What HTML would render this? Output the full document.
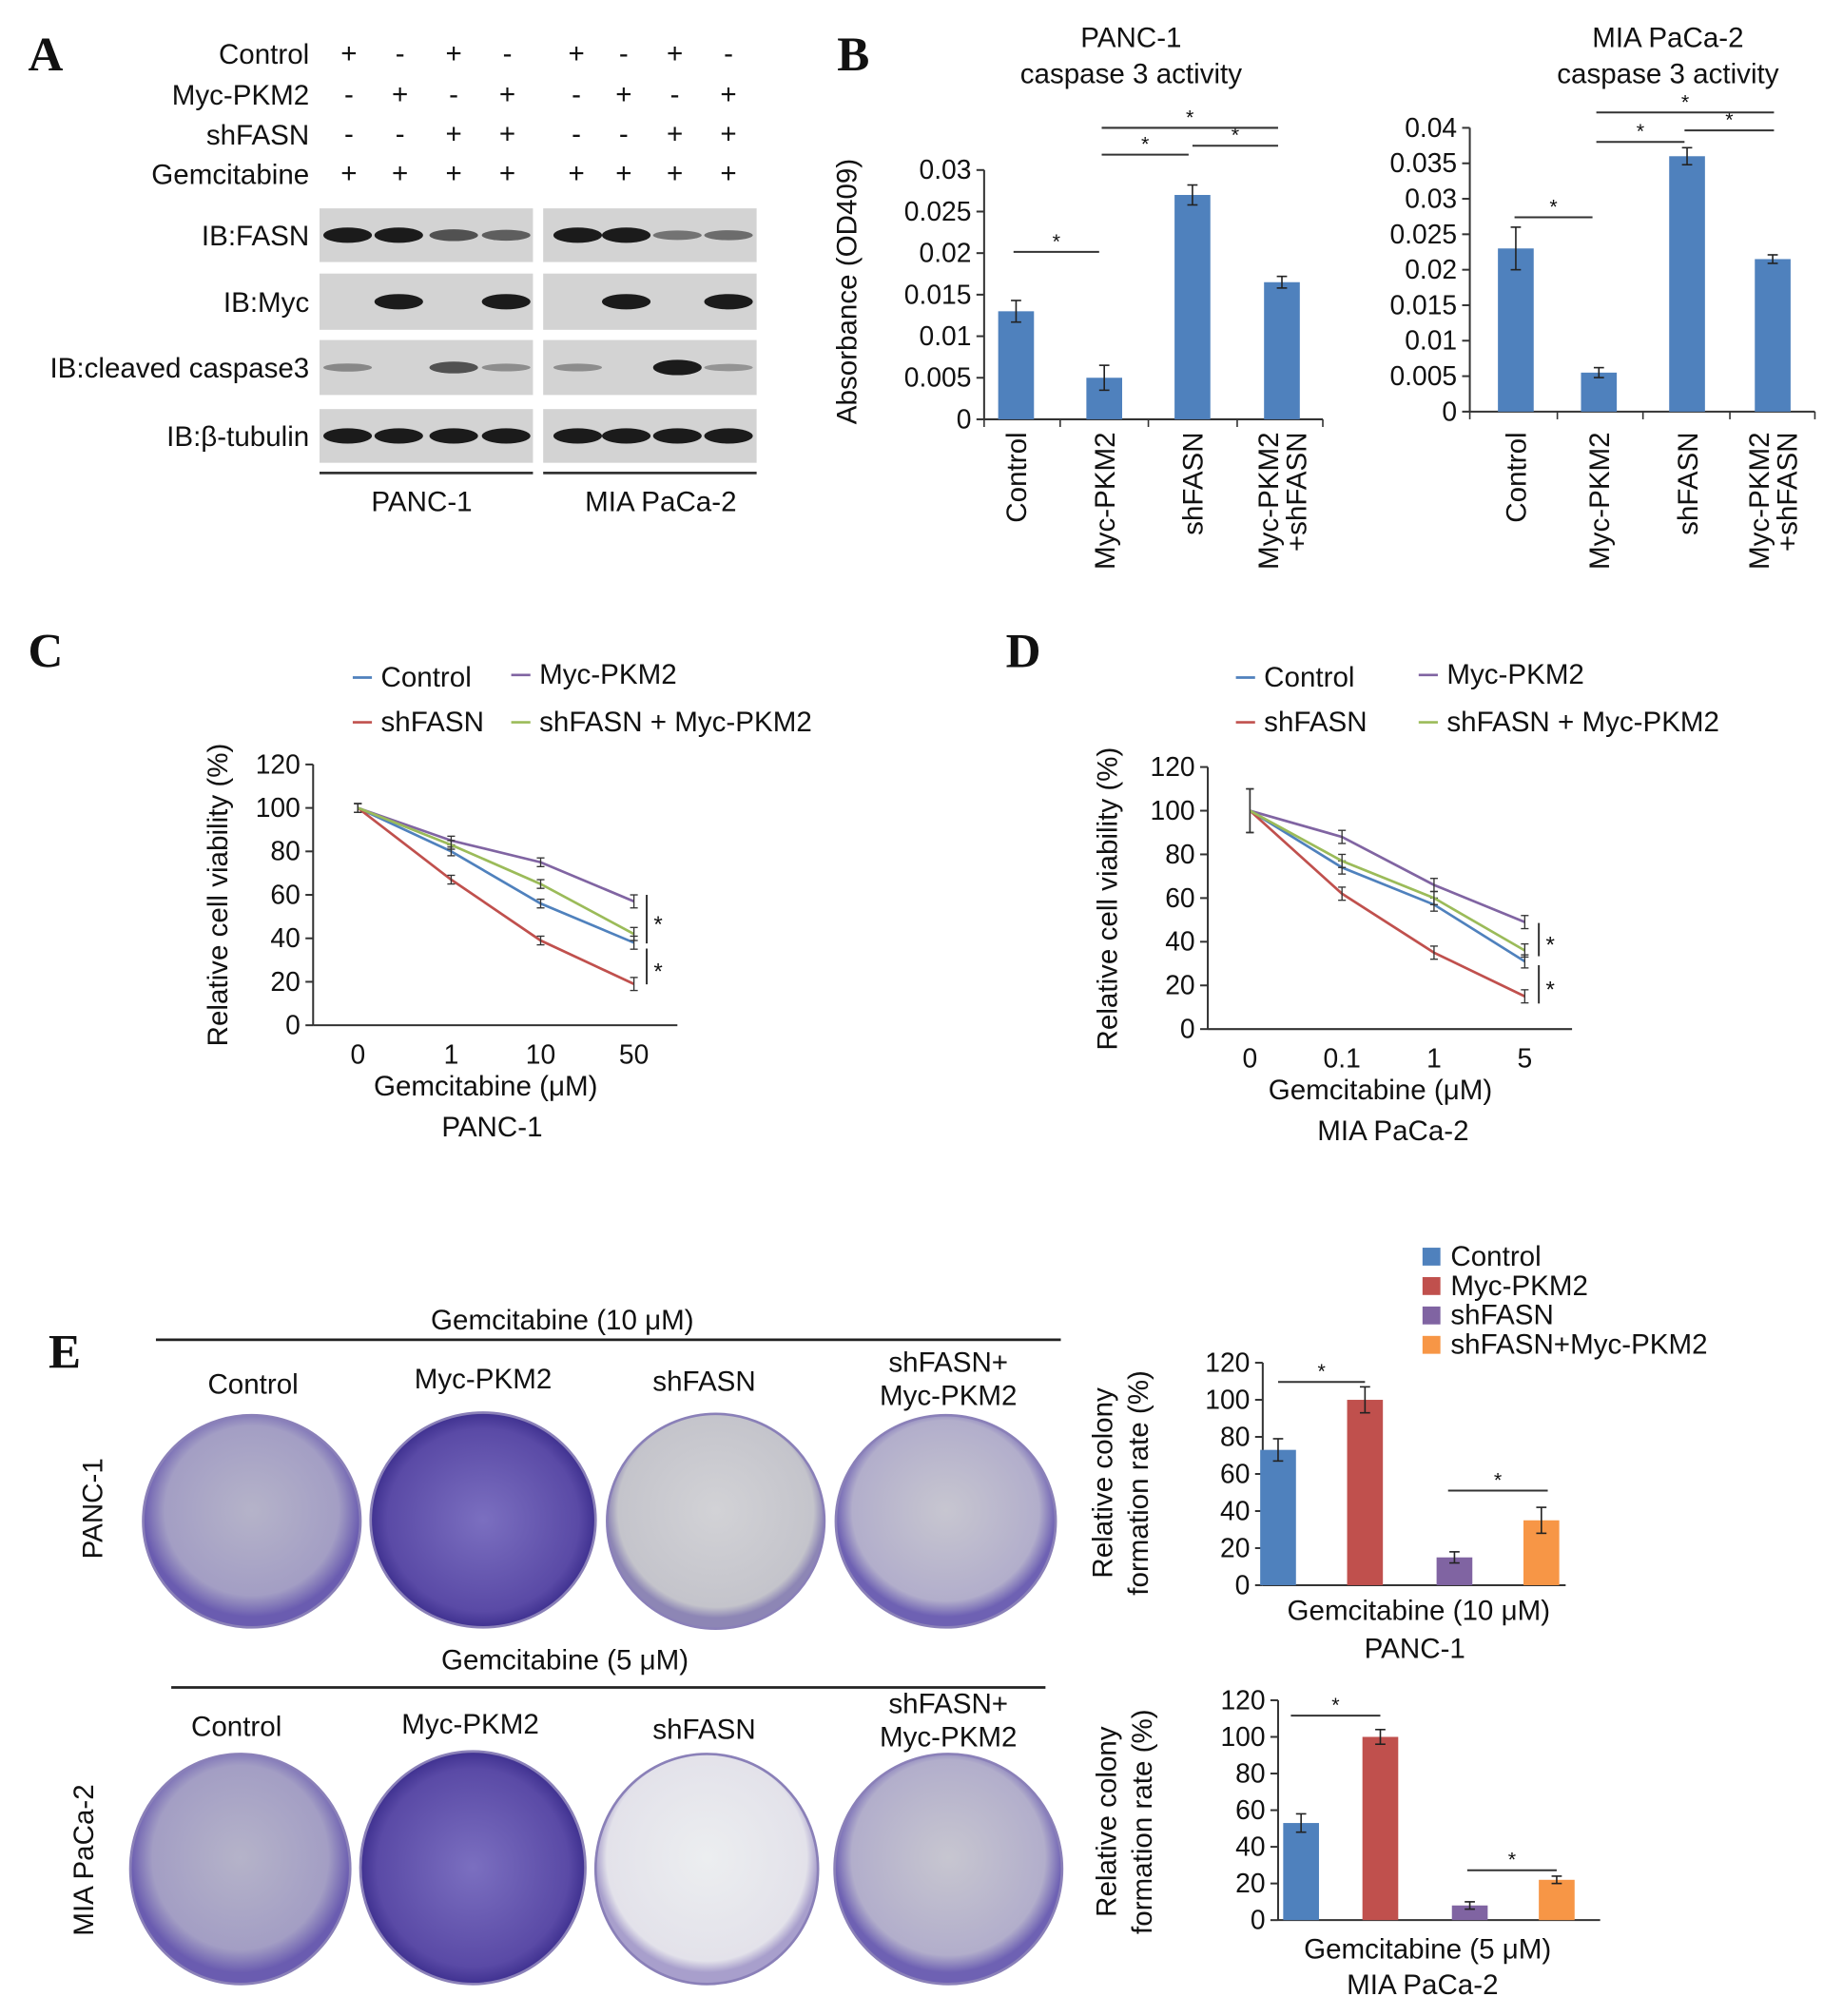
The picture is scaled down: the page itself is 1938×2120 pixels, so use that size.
<!DOCTYPE html>
<html><head><meta charset="utf-8"><style>
html,body{margin:0;padding:0;background:#fff}
svg{display:block}
text{font-family:"Liberation Sans",Arial,sans-serif;fill:#111}
</style></head><body>
<svg id="fig" width="1938" height="2120" viewBox="0 0 1442 1577" preserveAspectRatio="none" xmlns="http://www.w3.org/2000/svg">
<defs>
<radialGradient id="gDark" cx="50%" cy="50%" r="50%"><stop offset="0" stop-color="#7b6fc0"/><stop offset="0.85" stop-color="#5a4aa6"/><stop offset="1" stop-color="#3f3190"/></radialGradient>
<radialGradient id="gMid" cx="50%" cy="45%" r="50%"><stop offset="0" stop-color="#b5b3c9"/><stop offset="0.8" stop-color="#a39ec4"/><stop offset="1" stop-color="#6a5cb0"/></radialGradient>
<radialGradient id="gLight" cx="50%" cy="45%" r="50%"><stop offset="0" stop-color="#d2d2d6"/><stop offset="0.9" stop-color="#c4c4cb"/><stop offset="1" stop-color="#8d86b5"/></radialGradient>
<radialGradient id="gWhite" cx="50%" cy="45%" r="50%"><stop offset="0" stop-color="#eceef0"/><stop offset="0.9" stop-color="#e3e2ea"/><stop offset="1" stop-color="#a89fcc"/></radialGradient>
<radialGradient id="gGrayP" cx="50%" cy="45%" r="50%"><stop offset="0" stop-color="#c7c6d0"/><stop offset="0.85" stop-color="#b2aecb"/><stop offset="1" stop-color="#6e61b3"/></radialGradient>
</defs>
<g id="root"></g>
</svg>
<script>
// ---- Panel B data ----
const bCats = ["Control","Myc-PKM2","shFASN","Myc-PKM2|+shFASN"];
const bPanc = [0.013,0.005,0.027,0.0165];
const bPancErr = [0.0013,0.0015,0.0012,0.0007];
const bMia = [0.023,0.0055,0.036,0.0215];
const bMiaErr = [0.003,0.0007,0.0012,0.0006];
const bPancTicks = ["0","0.005","0.01","0.015","0.02","0.025","0.03"];
const bMiaTicks = ["0","0.005","0.01","0.015","0.02","0.025","0.03","0.035","0.04"];
// ---- Panel C/D data ----
const cSeries = ["Control","Myc-PKM2","shFASN","shFASN + Myc-PKM2"];
const cXLabels = ["0","1","10","50"];
const cControl = [100,80,56,38];
const cMyc = [100,85,75,57];
const cSh = [100,67,39,19];
const cShMyc = [100,83,65,42];
const cErr = [2,2,2,3];
const dXLabels = ["0","0.1","1","5"];
const dControl = [100,74,57,31];
const dMyc = [100,88,66,49];
const dSh = [100,62,35,15];
const dShMyc = [100,77,60,36];
const dErr = [10,3,3,3];
const vTicks = ["0","20","40","60","80","100","120"];
// ---- Panel E data ----
const eCats = ["Control","Myc-PKM2","shFASN","shFASN+Myc-PKM2"];
const ePanc = [73,100,15,35];
const ePancErr = [6,7,3,7];
const eMia = [53,100,8,22];
const eMiaErr = [5,4,2,2];

const NS="http://www.w3.org/2000/svg";
const root=document.getElementById('root');
function mk(tag,attrs,parent,txt){const e=document.createElementNS(NS,tag);for(const k in attrs)e.setAttribute(k,attrs[k]);if(txt!==undefined)e.textContent=txt;(parent||root).appendChild(e);return e;}
function T(x,y,s,size,anchor,extra){const e=mk('text',Object.assign({x:x,y:y,'font-size':size||22,'text-anchor':anchor||'middle'},extra||{}),null,s);


return e;}
function L(x1,y1,x2,y2,c,w){const e=mk('line',{x1,y1,x2,y2,stroke:c||'#222','stroke-width':w||1.5});


return e;}

// Panel letters
[["A",22,55],["B",655,55],["C",22,522],["D",787,522],["E",38,1070]].forEach(p=>{const t=T(p[1],p[2],p[0],38,'start',{style:'font-family:"Liberation Serif",serif;font-weight:bold'});
});

// ---- Panel A ----
const aRows=[["Control","+-+-+-+-",42],["Myc-PKM2","-+-+-+-+",74],["shFASN","--++--++",105],["Gemcitabine","++++++++",136]];
const aCols=[273,313,355,397,451,488,528,570];
aRows.forEach(r=>{T(242,r[2]+8,r[0],22,'end');for(let i=0;i<8;i++){T(aCols[i],r[2]+7,r[1][i]==='+'?'+':'-',22,'middle');}});
const blots=[["IB:FASN",163,205],["IB:Myc",214,258],["IB:cleaved caspase3",266,309],["IB:\u03b2-tubulin",320,362]];
const bandInt={ "IB:FASN":[1,1,.6,.5,1,1,.35,.4], "IB:Myc":[0,1,0,1,0,1,0,1], "IB:cleaved caspase3":[.2,0,.6,.15,.15,0,1,.1], "IB:\u03b2-tubulin":[1,1,1,1,1,1,1,1]};
blots.forEach(b=>{
  T(242,(b[1]+b[2])/2+8,b[0],22,'end');
  const r1=mk('rect',{x:250,y:b[1],width:167,height:b[2]-b[1],fill:'#d3d3d3'});
  
  
  const r2=mk('rect',{x:425,y:b[1],width:167,height:b[2]-b[1],fill:'#d3d3d3'});
  
  
  const cy=(b[1]+b[2])/2;
  bandInt[b[0]].forEach((v,i)=>{if(v<=0)return;const cx=[272,312,355,396,452,490,530,570][i];
    const e=mk('ellipse',{cx:cx,cy:cy,rx:19,ry:2.5+3.5*v,fill:'#111','fill-opacity':0.25+0.7*v});
    
    });
});
L(250,370,417,370,'#333',2);L(425,370,592,370,'#333',2);
T(330,400,"PANC-1",22);T(517,400,"MIA PaCa-2",22);

// ---- Bar chart helper ----
function barChart(o){
  const y=v=>o.y0-(v/o.max)*(o.y0-o.yTop);
  L(o.ax,o.yTop,o.ax,o.y0,'#333',1.5);L(o.ax,o.y0,o.xEnd,o.y0,'#333',1.5);
  o.ticks.forEach((t,i)=>{const v=i*o.step;const yy=y(v);L(o.ax-6,yy,o.ax,yy,'#333',1.5);T(o.ax-10,yy+7,t,o.tf||21,'end');});
  o.vals.forEach((v,i)=>{const cx=o.xs[i];
    const r=mk('rect',{x:cx-o.bw/2,y:y(v),width:o.bw,height:o.y0-y(v),fill:o.colors?o.colors[i]:'#4f81bd'});
    
    
    const e=o.err[i];L(cx,y(v+e),cx,y(v-e),'#222',1.2);L(cx-4,y(v+e),cx+4,y(v+e),'#222',1.2);L(cx-4,y(v-e),cx+4,y(v-e),'#222',1.2);
  });
  if(o.sepTicks){for(let i=0;i<=o.vals.length;i++){const xx=i===0?o.ax:(i===o.vals.length?o.xEnd:(o.xs[i-1]+o.xs[i])/2);L(xx,o.y0,xx,o.y0+6,'#333',1.2);}}
  (o.sig||[]).forEach(s=>{L(s[0],s[2],s[1],s[2],'#333',1.5);T((s[0]+s[1])/2,s[2]-3,'*',16);});
  return y;
}
// B left
barChart({ax:770,y0:328,yTop:133,max:0.03,step:0.005,ticks:bPancTicks,xEnd:1035,xs:[795,864,933,1003],bw:28,vals:bPanc,err:bPancErr,sepTicks:true,
  sig:[[793,860,197],[862,930,121],[933,1000,114],[862,1000,100]]});
T(885,37,"PANC-1",22);T(885,65,"caspase 3 activity",22);
T(0,0,"Absorbance (OD409)",22,'middle',{transform:'translate(670,228) rotate(-90)'});
// B right
barChart({ax:1150,y0:322,yTop:100,max:0.04,step:0.005,ticks:bMiaTicks,xEnd:1420,xs:[1186,1251,1320,1387],bw:28,vals:bMia,err:bMiaErr,sepTicks:true,
  sig:[[1185,1246,170],[1249,1318,111],[1318,1388,102],[1249,1388,88]]});
T(1305,37,"MIA PaCa-2",22);T(1305,65,"caspase 3 activity",22);
function rotLabels(xs,ytop){bCats.forEach((c,i)=>{const parts=c.split('|');
  if(parts.length===1){T(0,0,parts[0],22,'end',{transform:`translate(${xs[i]+8},${ytop}) rotate(-90)`});}
  else{T(0,0,parts[0],22,'end',{transform:`translate(${xs[i]-3},${ytop}) rotate(-90)`});T(0,0,parts[1],22,'end',{transform:`translate(${xs[i]+19},${ytop}) rotate(-90)`});}
});}
rotLabels([795,864,933,1003],338);rotLabels([1186,1251,1320,1387],338);

// ---- Line charts ----
const lineColors=["#4f81bd","#8064a2","#c0504d","#9bbb59"];
function lineChart(o){
  const y=v=>o.y0-(v/120)*(o.y0-o.yTop);
  L(o.ax,o.yTop,o.ax,o.y0,'#333',1.5);L(o.ax,o.y0,o.xEnd,o.y0,'#333',1.5);
  vTicks.forEach((t,i)=>{const yy=y(i*20);L(o.ax-6,yy,o.ax,yy,'#333',1.5);T(o.ax-10,yy+7,t,21,'end');});
  o.xLabels.forEach((t,i)=>T(o.xs[i],o.y0+30,t,21));
  o.series.forEach((s,k)=>{
    const p=mk('polyline',{points:s.map((v,i)=>o.xs[i]+','+y(v)).join(' '),fill:'none',stroke:lineColors[k],'stroke-width':2});
    
    
    s.forEach((v,i)=>{const e=o.err[i];L(o.xs[i],y(v+e),o.xs[i],y(v-e),'#333',1);L(o.xs[i]-3,y(v+e),o.xs[i]+3,y(v+e),'#333',1);L(o.xs[i]-3,y(v-e),o.xs[i]+3,y(v-e),'#333',1);});
  });
  // legend
  const lp=[[o.lx1,537],[o.lx2,535],[o.lx1,572],[o.lx2,572]];
  cSeries.forEach((n,k)=>{L(lp[k][0],lp[k][1]-7,lp[k][0]+15,lp[k][1]-7,lineColors[k],2);T(lp[k][0]+22,lp[k][1],n,22,'start');});
  o.brk.forEach(b=>{L(o.bx,b[0],o.bx,b[1],'#333',1.5);T(o.bx+9,(b[0]+b[1])/2+10,'*',18);});
}
lineChart({ax:245,y0:802,yTop:598,xEnd:530,xs:[280,353,423,496],xLabels:cXLabels,series:[cControl,cMyc,cSh,cShMyc],err:cErr,lx1:276,lx2:400,bx:506,brk:[[700,738],[742,770]]});
T(0,0,"Relative cell viability (%)",22,'middle',{transform:'translate(178,700) rotate(-90)'});
T(380,857,"Gemcitabine (\u03bcM)",22);T(385,889,"PANC-1",22);
lineChart({ax:945,y0:805,yTop:600,xEnd:1230,xs:[978,1050,1122,1193],xLabels:dXLabels,series:[dControl,dMyc,dSh,dShMyc],err:dErr,lx1:967,lx2:1110,bx:1204,brk:[[722,748],[755,785]]});
T(0,0,"Relative cell viability (%)",22,'middle',{transform:'translate(874,703) rotate(-90)'});
T(1080,860,"Gemcitabine (\u03bcM)",22);T(1090,892,"MIA PaCa-2",22);

// ---- Panel E ----
T(440,1040,"Gemcitabine (10 \u03bcM)",22);L(122,1048,830,1048,'#222',2);
T(198,1090,"Control",22);T(378,1086,"Myc-PKM2",22);T(551,1088,"shFASN",22);T(742,1073,"shFASN+",22);T(742,1099,"Myc-PKM2",22);
T(442,1306,"Gemcitabine (5 \u03bcM)",22);L(134,1320,818,1320,'#222',2);
T(185,1358,"Control",22);T(368,1356,"Myc-PKM2",22);T(551,1360,"shFASN",22);T(742,1340,"shFASN+",22);T(742,1366,"Myc-PKM2",22);
T(0,0,"PANC-1",22,'middle',{transform:'translate(80,1180) rotate(-90)'});
T(0,0,"MIA PaCa-2",22,'middle',{transform:'translate(73,1455) rotate(-90)'});
const plates=[[197,1190,85,83,'gMid'],[378,1189,88,84,'gDark'],[560,1190,85,84,'gLight'],[740,1190,86,83,'gGrayP'],
              [188,1462,86,90,'gMid'],[370,1461,88,91,'gDark'],[553,1462,87,90,'gWhite'],[742,1462,89,90,'gGrayP']];
plates.forEach((p,i)=>{const e=mk('ellipse',{cx:p[0],cy:p[1],rx:p[2],ry:p[3],fill:`url(#${p[4]})`,stroke:'#8a80b8','stroke-width':2});
  
  });
// E bars
const eColors=["#4f81bd","#c0504d","#8064a2","#f79646"];
barChart({ax:988,y0:1240,yTop:1066,max:120,step:20,ticks:vTicks,xEnd:1225,xs:[1000,1068,1138,1206],bw:28,vals:ePanc,err:ePancErr,colors:eColors,
  sig:[[1000,1068,1081],[1133,1211,1166]]});
T(0,0,"Relative colony",22,'middle',{transform:'translate(870,1160) rotate(-90)'});
T(0,0,"formation rate (%)",22,'middle',{transform:'translate(898,1160) rotate(-90)'});
T(1110,1267,"Gemcitabine (10 \u03bcM)",22);T(1107,1297,"PANC-1",22);
barChart({ax:1000,y0:1502,yTop:1330,max:120,step:20,ticks:vTicks,xEnd:1252,xs:[1018,1080,1150,1218],bw:28,vals:eMia,err:eMiaErr,colors:eColors,
  sig:[[1010,1080,1342],[1148,1218,1463]]});
T(0,0,"Relative colony",22,'middle',{transform:'translate(873,1425) rotate(-90)'});
T(0,0,"formation rate (%)",22,'middle',{transform:'translate(901,1425) rotate(-90)'});
T(1117,1532,"Gemcitabine (5 \u03bcM)",22);T(1113,1560,"MIA PaCa-2",22);
// legend
eCats.forEach((c,i)=>{const yy=984+i*23;const r=mk('rect',{x:1113,y:yy-8,width:14,height:14,fill:eColors[i]});
  
  
  T(1135,yy+6,c,22,'start');});
</script>
</body></html>
